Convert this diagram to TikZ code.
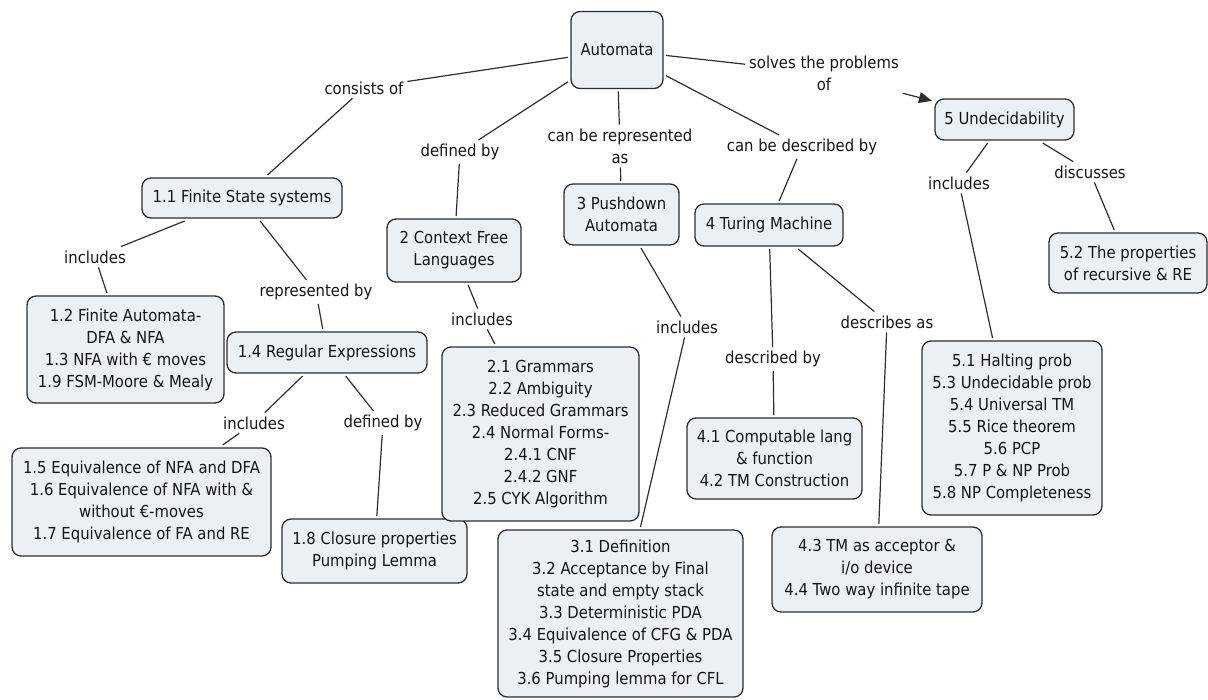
\documentclass[tikz,border=0pt]{standalone}
\usepackage{fontspec}
\setmainfont{DejaVu Sans}[FakeStretch=0.9]
\usetikzlibrary{arrows.meta}
\definecolor{boxfill}{HTML}{EAF0F4}
\definecolor{edge}{HTML}{2E2E2E}
\definecolor{txt}{HTML}{151515}
\tikzset{
  every node/.style={font=\fontsize{16.5}{22}\selectfont, text=txt},
  concept/.style={draw=edge, fill=boxfill, rounded corners=9pt, line width=1.3pt,
    inner sep=0pt, outer sep=3pt, align=center},
  linkname/.style={inner sep=1pt, outer sep=3pt, align=center},
  link/.style={draw=edge, line width=1.2pt},
  arrowlink/.style={link, -{Triangle[length=13pt,width=11pt]}}
}
\begin{document}
\begin{tikzpicture}[x=1pt,y=-1pt]
\useasboundingbox (0,0) rectangle (1208,700);
% concepts
\node[concept, minimum width=92pt, minimum height=77pt] (auto) at (617,50) {Automata};
\node[concept, minimum width=200pt, minimum height=40pt] (fs) at (242,198) {1.1 Finite State systems};
\node[concept, minimum width=134pt, minimum height=63pt] (cfl) at (454,250.5) {2 Context Free\\Languages};
\node[concept, minimum width=115pt, minimum height=61pt] (pda) at (621.5,214.5) {3 Pushdown\\Automata};
\node[concept, minimum width=148pt, minimum height=42pt] (tm) at (769,225) {4 Turing Machine};
\node[concept, minimum width=139pt, minimum height=41pt] (und) at (1004.5,119.5) {5 Undecidability};
\node[concept, minimum width=197pt, minimum height=107pt] (fa) at (125.5,349.5) {1.2 Finite Automata-\\DFA \& NFA\\1.3 NFA with € moves\\1.9 FSM-Moore \& Mealy};
\node[concept, minimum width=200pt, minimum height=41pt] (re) at (327,352.5) {1.4 Regular Expressions};
\node[concept, minimum width=259pt, minimum height=108pt] (eq) at (141.5,502) {1.5 Equivalence of NFA and DFA\\1.6 Equivalence of NFA with \&\\without €-moves\\1.7 Equivalence of FA and RE};
\node[concept, minimum width=185pt, minimum height=64pt] (cl) at (374.5,551) {1.8 Closure properties\\Pumping Lemma};
\node[concept, minimum width=197pt, minimum height=174pt] (gr) at (540.5,434) {2.1 Grammars\\2.2 Ambiguity\\2.3 Reduced Grammars\\2.4 Normal Forms-\\2.4.1 CNF\\2.4.2 GNF\\2.5 CYK Algorithm};
\node[concept, minimum width=245pt, minimum height=167pt] (pdal) at (620.5,613.5) {3.1 Definition\\3.2 Acceptance by Final\\state and empty stack\\3.3 Deterministic PDA\\3.4 Equivalence of CFG \& PDA\\3.5 Closure Properties\\3.6 Pumping lemma for CFL};
\node[concept, minimum width=175pt, minimum height=81pt] (tma) at (774.5,458.5) {4.1 Computable lang\\\& function\\4.2 TM Construction};
\node[concept, minimum width=210pt, minimum height=85pt] (tmb) at (877,569.5) {4.3 TM as acceptor \&\\i/o device\\4.4 Two way infinite tape};
\node[concept, minimum width=180pt, minimum height=174pt] (ua) at (1012,428) {5.1 Halting prob\\5.3 Undecidable prob\\5.4 Universal TM\\5.5 Rice theorem\\5.6 PCP\\5.7 P \& NP Prob\\5.8 NP Completeness};
\node[concept, minimum width=158pt, minimum height=60pt] (ub) at (1128,263) {5.2 The properties\\of recursive \& RE};
% linking phrases
\node[linkname] (lcons) at (364,88) {consists of};
\node[linkname] (ldef) at (460,152) {defined by};
\node[linkname] (lrep) at (620,146) {can be represented\\as};
\node[linkname] (ldesc) at (802,147) {can be described by};
\node[linkname] (lsolv) at (824,73) {solves the problems\\of};
\node[linkname] (linca) at (95,257) {includes};
\node[linkname] (lrepby) at (316,292) {represented by};
\node[linkname] (lincb) at (254,423) {includes};
\node[linkname] (ldefby) at (383,423) {defined by};
\node[linkname] (lincc) at (482,319) {includes};
\node[linkname] (lincd) at (687,327) {includes};
\node[linkname] (ldescby) at (773,359) {described by};
\node[linkname] (ldescas) at (887,322) {describes as};
\node[linkname] (lince) at (959,183) {includes};
\node[linkname] (ldisc) at (1090,172) {discusses};
% connectors
\draw[link] (auto) -- (lcons);
\draw[link] (lcons) -- (fs);
\draw[link] (auto) -- (ldef);
\draw[link] (ldef) -- (cfl);
\draw[link] (auto) -- (lrep);
\draw[link] (lrep) -- (pda);
\draw[link] (auto) -- (ldesc);
\draw[link] (ldesc) -- (tm);
\draw[link] (auto) -- (lsolv);
\draw[arrowlink] (lsolv) -- (und);
\draw[link] (fs) -- (linca);
\draw[link] (linca) -- (fa);
\draw[link] (fs) -- (lrepby);
\draw[link] (lrepby) -- (re);
\draw[link] (re) -- (lincb);
\draw[link] (lincb) -- (eq);
\draw[link] (re) -- (ldefby);
\draw[link] (ldefby) -- (cl);
\draw[link] (cfl) -- (lincc);
\draw[link] (lincc) -- (gr);
\draw[link] (pda) -- (lincd);
\draw[link] (lincd) -- (pdal);
\draw[link] (tm) -- (ldescby);
\draw[link] (ldescby) -- (tma);
\draw[link] (tm) -- (ldescas);
\draw[link] (ldescas) -- (tmb);
\draw[link] (und) -- (lince);
\draw[link] (lince) -- (ua);
\draw[link] (und) -- (ldisc);
\draw[link] (ldisc) -- (ub);
\end{tikzpicture}
\end{document}
